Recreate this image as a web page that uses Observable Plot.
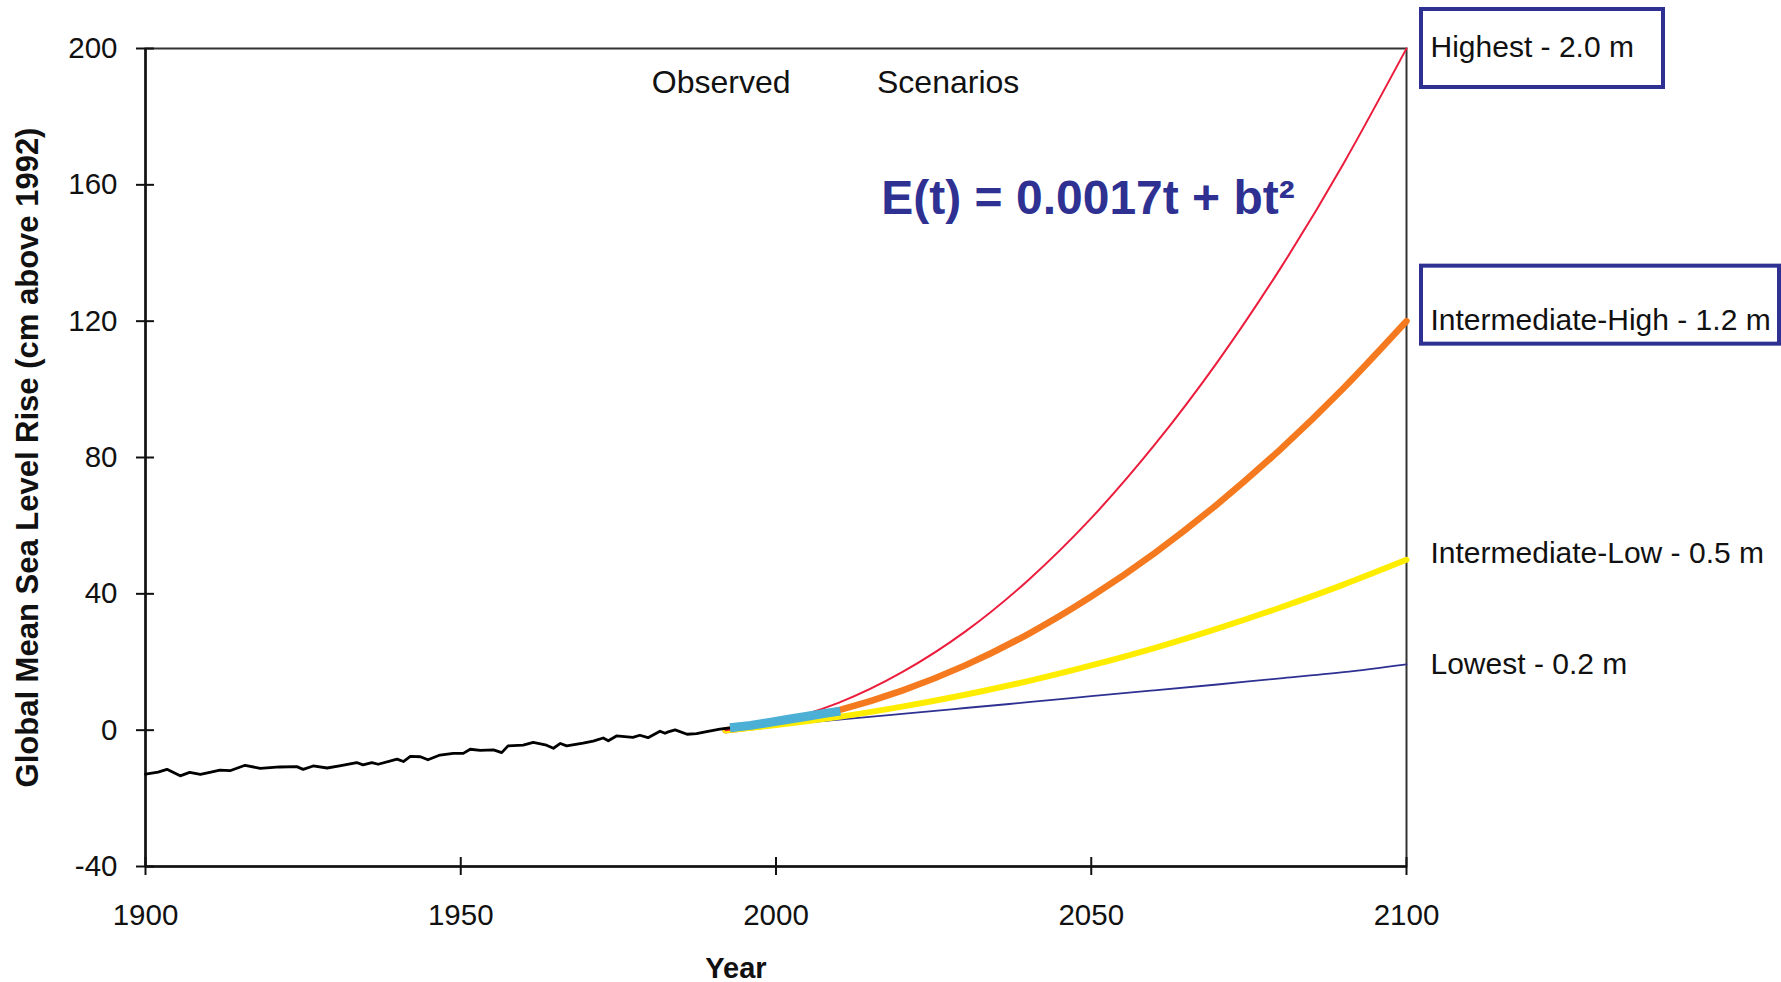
<!DOCTYPE html>
<html>
<head>
<meta charset="utf-8">
<script src="https://cdn.jsdelivr.net/npm/d3@7"></script>
<script src="https://cdn.jsdelivr.net/npm/@observablehq/plot@0.6"></script>
<style>
  html, body { margin: 0; padding: 0; background: #fff; overflow: hidden; }
</style>
</head>
<body>
<div id="chart"></div>
<script>
// ---- Data ----
const xTicks = [1900, 1950, 2000, 2050, 2100];
const yTicks = [-40, 0, 40, 80, 120, 160, 200];

// Observed global mean sea level (cm above 1992), tide gauges
const obsYears = [1900, 1902, 1903.4, 1905.5, 1907, 1908.7, 1910.2, 1911.8, 1913.4, 1915.8, 1918.2, 1921.3, 1924, 1925, 1926.6, 1928.8, 1931, 1933.5, 1934.5, 1935.9, 1936.9, 1939.9, 1940.9, 1942, 1943.6, 1944.8, 1946.7, 1948.8, 1950.4, 1951.5, 1953.1, 1955.2, 1956.5, 1957.5, 1959.9, 1961.5, 1963.6, 1964.7, 1965.8, 1966.8, 1969.4, 1971, 1972.6, 1973.4, 1974.7, 1977.3, 1978.4, 1979.7, 1981.6, 1982.4, 1982.9, 1984, 1985.9, 1987.4, 1989, 1991.1, 1992.7];
const obsValues = [-12.9, -12.3, -11.5, -13.4, -12.4, -13.0, -12.4, -11.7, -11.9, -10.3, -11.2, -10.8, -10.7, -11.5, -10.5, -11.1, -10.4, -9.5, -10.2, -9.5, -10.0, -8.5, -9.2, -7.7, -7.8, -8.7, -7.3, -6.8, -6.8, -5.6, -5.9, -5.8, -6.6, -4.6, -4.4, -3.6, -4.4, -5.3, -3.9, -4.6, -3.8, -3.2, -2.3, -3.1, -1.7, -2.1, -1.5, -2.2, -0.3, -0.9, -0.5, 0.1, -1.2, -1.0, -0.4, 0.3, 0.7];

// Satellite altimetry segment
const satYears = [1992.7, 1996, 1999, 2002, 2005, 2008, 2010.2];
const satValues = [0.7, 1.4, 2.3, 3.2, 4.1, 5.0, 5.6];

// Scenarios
const scenarioYears = [1992, 2000, 2010, 2020, 2030, 2040, 2050, 2060, 2070, 2080, 2090, 2100];
const highestValues = [0, 2.4, 8.1, 17.0, 28.9, 44.0, 62.2, 83.6, 108.0, 135.5, 166.2, 200];
const intHighValues = [0, 1.9, 5.9, 11.6, 19.0, 28.2, 39.2, 51.9, 66.3, 82.4, 100.3, 120];
const intLowValues  = [0, 1.5, 3.9, 6.9, 10.4, 14.4, 19.0, 24.1, 29.8, 36.0, 42.7, 50];
const lowestValues  = [0, 1.4, 3.1, 4.8, 6.5, 8.2, 10.0, 11.7, 13.4, 15.2, 17.0, 19.3];

const scenarioLabels = ["Highest - 2.0 m", "Intermediate-High - 1.2 m", "Intermediate-Low - 0.5 m", "Lowest - 0.2 m"];
const scenarioLabelY = [200.2, 120.2, 51.8, 19.4];
const endYear = 2100;

const annotations = ["Observed", "Scenarios"];
const annotationX = [1991.3, 2027.3];
const annotationY = [190, 190];

const equation = "E(t) = 0.0017t + bt²";
const equationX = 2016.7;
const equationY = 156;

const yLabel = "Global Mean Sea Level Rise (cm above 1992)";
const xLabel = "Year";

// ---- Tables ----
const toRows = (xs, ys) => xs.map((x, i) => ({year: x, value: ys[i]}));
const observed = toRows(obsYears, obsValues);
const satellite = toRows(satYears, satValues);
const highest = toRows(scenarioYears, highestValues);
const intHigh = toRows(scenarioYears, intHighValues);
const intLow = toRows(scenarioYears, intLowValues);
const lowest = toRows(scenarioYears, lowestValues);
const labelRows = scenarioLabels.map((t, i) => ({text: t, year: endYear, value: scenarioLabelY[i]}));
const boxRows = [
  {year: endYear, value: highestValues[highestValues.length - 1]},
  {year: endYear, value: intHighValues[intHighValues.length - 1]}
];
const annRows = annotations.map((t, i) => ({text: t, year: annotationX[i], value: annotationY[i]}));

const navy = "#2E3192";
const font = "Liberation Sans, Arial, Helvetica, sans-serif";

const chart = Plot.plot({
  width: 1781,
  height: 982,
  marginLeft: 145,
  marginRight: 375,
  marginTop: 48,
  marginBottom: 116,
  style: {fontFamily: font, background: "#fff", color: "#000", overflow: "visible"},
  x: {domain: [1900, 2100]},
  y: {domain: [-40, 200]},
  marks: [
    Plot.frame({stroke: "#333", strokeWidth: 2}),
    Plot.ruleX([1900], {stroke: "#111", strokeWidth: 2.5}),
    Plot.ruleY([-40], {stroke: "#111", strokeWidth: 2.5}),
    // crossing ticks
    Plot.axisX(xTicks, {anchor: "bottom", tickSize: 18, dy: -9, tickFormat: () => "", label: null, strokeWidth: 2, stroke: "#111"}),
    Plot.axisY(yTicks, {anchor: "left", tickSize: 18, dx: 9, tickFormat: () => "", label: null, strokeWidth: 2, stroke: "#111"}),
    // tick labels
    Plot.axisX(xTicks, {anchor: "bottom", tickSize: 0, tickPadding: 38, fontSize: 29.5, tickFormat: d => String(d), label: null, fill: "#111"}),
    Plot.axisY(yTicks, {anchor: "left", tickSize: 0, tickPadding: 28, fontSize: 29.5, tickFormat: d => String(d), label: null, fill: "#111"}),
    // scenario lines
    Plot.line(lowest, {x: "year", y: "value", stroke: navy, strokeWidth: 1.8, curve: "natural"}),
    Plot.line(intHigh, {x: "year", y: "value", stroke: "#F57A1F", strokeWidth: 6.5, curve: "natural"}),
    Plot.line(intLow, {x: "year", y: "value", stroke: "#FFED00", strokeWidth: 6, curve: "natural"}),
    Plot.line(highest, {x: "year", y: "value", stroke: "#EC1C3C", strokeWidth: 2, curve: "natural"}),
    // observed
    Plot.line(observed, {x: "year", y: "value", stroke: "#000", strokeWidth: 2.8, strokeLinejoin: "round"}),
    Plot.line(satellite, {x: "year", y: "value", stroke: "#4BAFD6", strokeWidth: 9, strokeLinecap: "butt"}),
    // boxes around two labels
    Plot.rect(boxRows.slice(0, 1), {x1: "year", x2: "year", y1: "value", y2: "value", insetLeft: 15, insetRight: -257, insetTop: -39, insetBottom: -39, fill: "none", stroke: navy, strokeWidth: 4}),
    Plot.rect(boxRows.slice(1, 2), {x1: "year", x2: "year", y1: "value", y2: "value", insetLeft: 15, insetRight: -373, insetTop: -55, insetBottom: -23, fill: "none", stroke: navy, strokeWidth: 4}),
    // scenario labels
    Plot.text(labelRows, {x: "year", y: "value", text: "text", dx: 24, textAnchor: "start", fontSize: 30, fill: "#111", lineAnchor: "middle"}),
    // annotations
    Plot.text(annRows, {x: "year", y: "value", text: "text", fontSize: 32, fill: "#111", lineAnchor: "middle"}),
    Plot.text([equation], {x: equationX, y: equationY, text: d => d, textAnchor: "start", fontSize: 48, fontWeight: "bold", fill: navy, lineAnchor: "middle"}),
    // axis titles
    Plot.text([yLabel], {frameAnchor: "left", text: d => d, rotate: -90, textAnchor: "middle", lineAnchor: "middle", dx: -117, fontSize: 31, fontWeight: "bold", fill: "#111"}),
    Plot.text([xLabel], {frameAnchor: "bottom", text: d => d, textAnchor: "middle", lineAnchor: "middle", dx: -40, dy: 102, fontSize: 29, fontWeight: "bold", fill: "#111"})
  ]
});
document.getElementById("chart").appendChild(chart);
</script>
</body>
</html>
